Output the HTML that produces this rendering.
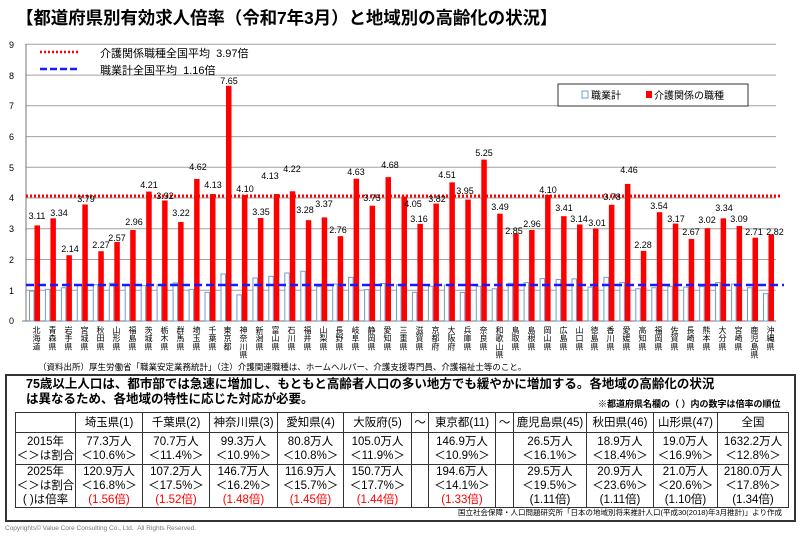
<!DOCTYPE html>
<html><head><meta charset="utf-8"><style>
body{margin:0;width:800px;height:537px;overflow:hidden;background:#fff;font-family:"Liberation Sans","Noto Sans CJK JP",sans-serif;position:relative;color:#000}
.a{position:absolute;white-space:nowrap}
.xl{position:absolute;top:326px;width:12px;font-size:8px;line-height:8.4px;text-align:center;writing-mode:vertical-rl;letter-spacing:0.2px}
table{position:absolute;left:15px;top:412px;border-collapse:collapse;font-size:11.5px;line-height:14px;text-align:center}
td{border:1px solid #333;padding:0}
.r{color:#f00}
</style></head><body>
<div class="a" style="left:16px;top:5px;font-size:17.5px;font-weight:bold;letter-spacing:-0.1px">【都道府県別有効求人倍率（令和7年3月）と地域別の高齢化の状況】</div>
<svg class="a" style="left:0;top:0" width="800" height="365" xmlns="http://www.w3.org/2000/svg">
<g stroke="#a0a0a0" stroke-width="1">
<line x1="26" x2="776" y1="44.3" y2="44.3"/><line x1="26" x2="776" y1="75.1" y2="75.1"/><line x1="26" x2="776" y1="105.8" y2="105.8"/><line x1="26" x2="776" y1="136.6" y2="136.6"/><line x1="26" x2="776" y1="167.3" y2="167.3"/><line x1="26" x2="776" y1="198" y2="198"/><line x1="26" x2="776" y1="228.8" y2="228.8"/><line x1="26" x2="776" y1="259.5" y2="259.5"/><line x1="26" x2="776" y1="290.3" y2="290.3"/>
</g>
<line x1="26" x2="26" y1="44" y2="321" stroke="#777"/>
<line x1="22" x2="776" y1="321" y2="321" stroke="#777"/>
<g font-size="9" text-anchor="end"><text x="14" y="48">9</text><text x="14" y="79">8</text><text x="14" y="109">7</text><text x="14" y="140">6</text><text x="14" y="171">5</text><text x="14" y="201">4</text><text x="14" y="232">3</text><text x="14" y="263">2</text><text x="14" y="294">1</text><text x="14" y="324">0</text></g>
<g transform="matrix(1,0,0,-30.74,0,321)" fill="#fff" stroke="#6f9bd0" stroke-width="1">
<rect vector-effect="non-scaling-stroke" x="29.5" width="4.5" y="0" height="0.97"/>
<rect vector-effect="non-scaling-stroke" x="45.4" width="4.5" y="0" height="1.03"/>
<rect vector-effect="non-scaling-stroke" x="61.4" width="4.5" y="0" height="1.08"/>
<rect vector-effect="non-scaling-stroke" x="77.3" width="4.5" y="0" height="1.18"/>
<rect vector-effect="non-scaling-stroke" x="93.3" width="4.5" y="0" height="1.18"/>
<rect vector-effect="non-scaling-stroke" x="109.3" width="4.5" y="0" height="1.23"/>
<rect vector-effect="non-scaling-stroke" x="125.2" width="4.5" y="0" height="1.18"/>
<rect vector-effect="non-scaling-stroke" x="141.2" width="4.5" y="0" height="1.15"/>
<rect vector-effect="non-scaling-stroke" x="157.1" width="4.5" y="0" height="1.18"/>
<rect vector-effect="non-scaling-stroke" x="173.1" width="4.5" y="0" height="1.24"/>
<rect vector-effect="non-scaling-stroke" x="189.1" width="4.5" y="0" height="1.03"/>
<rect vector-effect="non-scaling-stroke" x="205" width="4.5" y="0" height="0.93"/>
<rect vector-effect="non-scaling-stroke" x="221" width="4.5" y="0" height="1.53"/>
<rect vector-effect="non-scaling-stroke" x="236.9" width="4.5" y="0" height="0.85"/>
<rect vector-effect="non-scaling-stroke" x="252.9" width="4.5" y="0" height="1.40"/>
<rect vector-effect="non-scaling-stroke" x="268.8" width="4.5" y="0" height="1.45"/>
<rect vector-effect="non-scaling-stroke" x="284.8" width="4.5" y="0" height="1.56"/>
<rect vector-effect="non-scaling-stroke" x="300.8" width="4.5" y="0" height="1.62"/>
<rect vector-effect="non-scaling-stroke" x="316.7" width="4.5" y="0" height="1.12"/>
<rect vector-effect="non-scaling-stroke" x="332.7" width="4.5" y="0" height="1.20"/>
<rect vector-effect="non-scaling-stroke" x="348.6" width="4.5" y="0" height="1.42"/>
<rect vector-effect="non-scaling-stroke" x="364.6" width="4.5" y="0" height="1.02"/>
<rect vector-effect="non-scaling-stroke" x="380.5" width="4.5" y="0" height="1.22"/>
<rect vector-effect="non-scaling-stroke" x="396.5" width="4.5" y="0" height="1.18"/>
<rect vector-effect="non-scaling-stroke" x="412.4" width="4.5" y="0" height="0.93"/>
<rect vector-effect="non-scaling-stroke" x="428.4" width="4.5" y="0" height="1.13"/>
<rect vector-effect="non-scaling-stroke" x="444.4" width="4.5" y="0" height="1.17"/>
<rect vector-effect="non-scaling-stroke" x="460.3" width="4.5" y="0" height="0.93"/>
<rect vector-effect="non-scaling-stroke" x="476.3" width="4.5" y="0" height="1.13"/>
<rect vector-effect="non-scaling-stroke" x="492.2" width="4.5" y="0" height="1.05"/>
<rect vector-effect="non-scaling-stroke" x="508.2" width="4.5" y="0" height="1.23"/>
<rect vector-effect="non-scaling-stroke" x="524.1" width="4.5" y="0" height="1.25"/>
<rect vector-effect="non-scaling-stroke" x="540.1" width="4.5" y="0" height="1.38"/>
<rect vector-effect="non-scaling-stroke" x="556.1" width="4.5" y="0" height="1.35"/>
<rect vector-effect="non-scaling-stroke" x="572" width="4.5" y="0" height="1.37"/>
<rect vector-effect="non-scaling-stroke" x="588" width="4.5" y="0" height="1.10"/>
<rect vector-effect="non-scaling-stroke" x="603.9" width="4.5" y="0" height="1.42"/>
<rect vector-effect="non-scaling-stroke" x="619.9" width="4.5" y="0" height="1.25"/>
<rect vector-effect="non-scaling-stroke" x="635.8" width="4.5" y="0" height="1.05"/>
<rect vector-effect="non-scaling-stroke" x="651.8" width="4.5" y="0" height="1.08"/>
<rect vector-effect="non-scaling-stroke" x="667.8" width="4.5" y="0" height="1.13"/>
<rect vector-effect="non-scaling-stroke" x="683.7" width="4.5" y="0" height="1.10"/>
<rect vector-effect="non-scaling-stroke" x="699.7" width="4.5" y="0" height="1.12"/>
<rect vector-effect="non-scaling-stroke" x="715.6" width="4.5" y="0" height="1.25"/>
<rect vector-effect="non-scaling-stroke" x="731.6" width="4.5" y="0" height="1.20"/>
<rect vector-effect="non-scaling-stroke" x="747.5" width="4.5" y="0" height="1.08"/>
<rect vector-effect="non-scaling-stroke" x="763.5" width="4.5" y="0" height="0.89"/>
</g>
<g transform="matrix(1,0,0,-30.74,0,321)" fill="#f00">
<rect x="34.5" width="5.5" y="0" height="3.11"/><rect x="50.4" width="5.5" y="0" height="3.34"/><rect x="66.4" width="5.5" y="0" height="2.14"/><rect x="82.3" width="5.5" y="0" height="3.79"/><rect x="98.3" width="5.5" y="0" height="2.27"/><rect x="114.3" width="5.5" y="0" height="2.57"/><rect x="130.2" width="5.5" y="0" height="2.96"/><rect x="146.2" width="5.5" y="0" height="4.21"/><rect x="162.1" width="5.5" y="0" height="3.92"/><rect x="178.1" width="5.5" y="0" height="3.22"/><rect x="194.1" width="5.5" y="0" height="4.62"/><rect x="210" width="5.5" y="0" height="4.13"/><rect x="226" width="5.5" y="0" height="7.65"/><rect x="241.9" width="5.5" y="0" height="4.10"/><rect x="257.9" width="5.5" y="0" height="3.35"/><rect x="273.8" width="5.5" y="0" height="4.13"/><rect x="289.8" width="5.5" y="0" height="4.22"/><rect x="305.8" width="5.5" y="0" height="3.28"/><rect x="321.7" width="5.5" y="0" height="3.37"/><rect x="337.7" width="5.5" y="0" height="2.76"/><rect x="353.6" width="5.5" y="0" height="4.63"/><rect x="369.6" width="5.5" y="0" height="3.75"/><rect x="385.5" width="5.5" y="0" height="4.68"/><rect x="401.5" width="5.5" y="0" height="4.05"/><rect x="417.4" width="5.5" y="0" height="3.16"/><rect x="433.4" width="5.5" y="0" height="3.82"/><rect x="449.4" width="5.5" y="0" height="4.51"/><rect x="465.3" width="5.5" y="0" height="3.95"/><rect x="481.3" width="5.5" y="0" height="5.25"/><rect x="497.2" width="5.5" y="0" height="3.49"/><rect x="513.2" width="5.5" y="0" height="2.85"/><rect x="529.1" width="5.5" y="0" height="2.96"/><rect x="545.1" width="5.5" y="0" height="4.10"/><rect x="561.1" width="5.5" y="0" height="3.41"/><rect x="577" width="5.5" y="0" height="3.14"/><rect x="593" width="5.5" y="0" height="3.01"/><rect x="608.9" width="5.5" y="0" height="3.78"/><rect x="624.9" width="5.5" y="0" height="4.46"/><rect x="640.8" width="5.5" y="0" height="2.28"/><rect x="656.8" width="5.5" y="0" height="3.54"/><rect x="672.8" width="5.5" y="0" height="3.17"/><rect x="688.7" width="5.5" y="0" height="2.67"/><rect x="704.7" width="5.5" y="0" height="3.02"/><rect x="720.6" width="5.5" y="0" height="3.34"/><rect x="736.6" width="5.5" y="0" height="3.09"/><rect x="752.5" width="5.5" y="0" height="2.71"/><rect x="768.5" width="5.5" y="0" height="2.82"/>
</g>
<line x1="26" x2="782" y1="196" y2="196" stroke="#f00" stroke-width="3" stroke-dasharray="2,2"/>
<line x1="26" x2="784" y1="285" y2="285" stroke="#1a1aff" stroke-width="2.5" stroke-dasharray="8,4"/>
<g font-size="9" text-anchor="middle">
<text x="37" y="219">3.11</text><text x="59" y="216">3.34</text><text x="70" y="252">2.14</text><text x="86" y="202">3.79</text><text x="101" y="248">2.27</text><text x="117" y="241">2.57</text><text x="134" y="225">2.96</text><text x="149" y="188">4.21</text><text x="165" y="199">3.92</text><text x="181" y="216">3.22</text><text x="198" y="170">4.62</text><text x="213" y="188">4.13</text><text x="229" y="84">7.65</text><text x="245" y="192">4.10</text><text x="261" y="215">3.35</text><text x="270" y="179">4.13</text><text x="292" y="172">4.22</text><text x="305" y="213">3.28</text><text x="324" y="207">3.37</text><text x="338" y="233">2.76</text><text x="356" y="175">4.63</text><text x="372" y="201">3.75</text><text x="390" y="168">4.68</text><text x="413" y="207">4.05</text><text x="419" y="222">3.16</text><text x="437" y="202">3.82</text><text x="447" y="178">4.51</text><text x="465" y="194">3.95</text><text x="484" y="156">5.25</text><text x="500" y="210">3.49</text><text x="514" y="234">2.85</text><text x="532" y="227">2.96</text><text x="548" y="193">4.10</text><text x="564" y="211">3.41</text><text x="579" y="222">3.14</text><text x="597" y="226">3.01</text><text x="612" y="200">3.78</text><text x="629" y="173">4.46</text><text x="643" y="248">2.28</text><text x="659" y="209">3.54</text><text x="676" y="222">3.17</text><text x="691" y="235">2.67</text><text x="707" y="223">3.02</text><text x="724" y="211">3.34</text><text x="739" y="222">3.09</text><text x="754" y="235">2.71</text><text x="775" y="235">2.82</text>
</g>
<line x1="40" x2="79" y1="52" y2="52" stroke="#f00" stroke-width="2.5" stroke-dasharray="2,2"/>
<line x1="40" x2="79" y1="69" y2="69" stroke="#1a1aff" stroke-width="2.5" stroke-dasharray="7,3"/>
<text x="100" y="57" font-size="11">介護関係職種全国平均&#160;&#160;3.97倍</text>
<text x="100" y="74" font-size="11">職業計全国平均&#160;&#160;1.16倍</text>
<rect x="558" y="84" width="190" height="22" fill="#fff" stroke="#333" stroke-width="1"/>
<rect x="582" y="91" width="6" height="7" fill="#fff" stroke="#6f9bd0"/>
<text x="591" y="99" font-size="10">職業計</text>
<rect x="646" y="91" width="6" height="7" fill="#f00"/>
<text x="654" y="99" font-size="10">介護関係の職種</text>
</svg>
<div class="xl" style="left:28px">北海道</div><div class="xl" style="left:44px">青森県</div><div class="xl" style="left:60px">岩手県</div><div class="xl" style="left:76px">宮城県</div><div class="xl" style="left:92px">秋田県</div><div class="xl" style="left:108px">山形県</div><div class="xl" style="left:124px">福島県</div><div class="xl" style="left:140px">茨城県</div><div class="xl" style="left:156px">栃木県</div><div class="xl" style="left:172px">群馬県</div><div class="xl" style="left:188px">埼玉県</div><div class="xl" style="left:204px">千葉県</div><div class="xl" style="left:219px">東京都</div><div class="xl" style="left:235px">神奈川県</div><div class="xl" style="left:251px">新潟県</div><div class="xl" style="left:267px">富山県</div><div class="xl" style="left:283px">石川県</div><div class="xl" style="left:299px">福井県</div><div class="xl" style="left:315px">山梨県</div><div class="xl" style="left:331px">長野県</div><div class="xl" style="left:347px">岐阜県</div><div class="xl" style="left:363px">静岡県</div><div class="xl" style="left:379px">愛知県</div><div class="xl" style="left:395px">三重県</div><div class="xl" style="left:411px">滋賀県</div><div class="xl" style="left:427px">京都府</div><div class="xl" style="left:443px">大阪府</div><div class="xl" style="left:459px">兵庫県</div><div class="xl" style="left:475px">奈良県</div><div class="xl" style="left:491px">和歌山県</div><div class="xl" style="left:507px">鳥取県</div><div class="xl" style="left:523px">島根県</div><div class="xl" style="left:539px">岡山県</div><div class="xl" style="left:555px">広島県</div><div class="xl" style="left:571px">山口県</div><div class="xl" style="left:586px">徳島県</div><div class="xl" style="left:602px">香川県</div><div class="xl" style="left:618px">愛媛県</div><div class="xl" style="left:634px">高知県</div><div class="xl" style="left:650px">福岡県</div><div class="xl" style="left:666px">佐賀県</div><div class="xl" style="left:682px">長崎県</div><div class="xl" style="left:698px">熊本県</div><div class="xl" style="left:714px">大分県</div><div class="xl" style="left:730px">宮崎県</div><div class="xl" style="left:746px">鹿児島県</div><div class="xl" style="left:762px">沖縄県</div>
<div class="a" style="left:38px;top:361px;font-size:8.5px">（資料出所）厚生労働省「職業安定業務統計」（注）介護関連職種は、ホームヘルパー、介護支援専門員、介護福祉士等のこと。</div>
<div class="a" style="left:5px;top:374px;width:787px;height:144px;border:2px solid #333"></div>
<div class="a" style="left:26px;top:377px;font-size:12.5px;font-weight:bold;line-height:15px">75歳以上人口は、都市部では急速に増加し、もともと高齢者人口の多い地方でも緩やかに増加する。各地域の高齢化の状況<br>は異なるため、各地域の特性に応じた対応が必要。</div>
<div class="a" style="left:598px;top:397px;font-size:9px;font-weight:bold">※都道府県名欄の（ ）内の数字は倍率の順位</div>
<table>
<tr style="height:20px"><td style="width:59px"></td><td style="width:66px">埼玉県(1)</td><td style="width:66px">千葉県(2)</td><td style="width:67px">神奈川県(3)</td><td style="width:65px">愛知県(4)</td><td style="width:67px">大阪府(5)</td><td style="width:16px">～</td><td style="width:66px">東京都(11)</td><td style="width:17px">～</td><td style="width:72px">鹿児島県(45)</td><td style="width:66px">秋田県(46)</td><td style="width:63px">山形県(47)</td><td style="width:70px">全国</td></tr>
<tr style="height:32px"><td>2015年<br>＜＞は割合</td><td>77.3万人<br>＜10.6%＞</td><td>70.7万人<br>＜11.4%＞</td><td>99.3万人<br>＜10.9%＞</td><td>80.8万人<br>＜10.8%＞</td><td>105.0万人<br>＜11.9%＞</td><td></td><td>146.9万人<br>＜10.9%＞</td><td></td><td>26.5万人<br>＜16.1%＞</td><td>18.9万人<br>＜18.4%＞</td><td>19.0万人<br>＜16.9%＞</td><td>1632.2万人<br>＜12.8%＞</td></tr>
<tr style="height:43px"><td>2025年<br>＜＞は割合<br>( )は倍率</td><td>120.9万人<br>＜16.8%＞<br><span class="r">(1.56倍)</span></td><td>107.2万人<br>＜17.5%＞<br><span class="r">(1.52倍)</span></td><td>146.7万人<br>＜16.2%＞<br><span class="r">(1.48倍)</span></td><td>116.9万人<br>＜15.7%＞<br><span class="r">(1.45倍)</span></td><td>150.7万人<br>＜17.7%＞<br><span class="r">(1.44倍)</span></td><td></td><td>194.6万人<br>＜14.1%＞<br><span class="r">(1.33倍)</span></td><td></td><td>29.5万人<br>＜19.5%＞<br>(1.11倍)</td><td>20.9万人<br>＜23.6%＞<br>(1.11倍)</td><td>21.0万人<br>＜20.6%＞<br>(1.10倍)</td><td>2180.0万人<br>＜17.8%＞<br>(1.34倍)</td></tr>
</table>
<div class="a" style="right:18px;top:507px;font-size:7.5px">国立社会保障・人口問題研究所「日本の地域別将来推計人口(平成30(2018)年3月推計)」より作成</div>
<div class="a" style="left:5px;top:525px;font-size:6.5px;color:#777">Copyrights© Value Core Consulting Co., Ltd.&#160;&#160;All Rights Reserved.</div>
</body></html>
